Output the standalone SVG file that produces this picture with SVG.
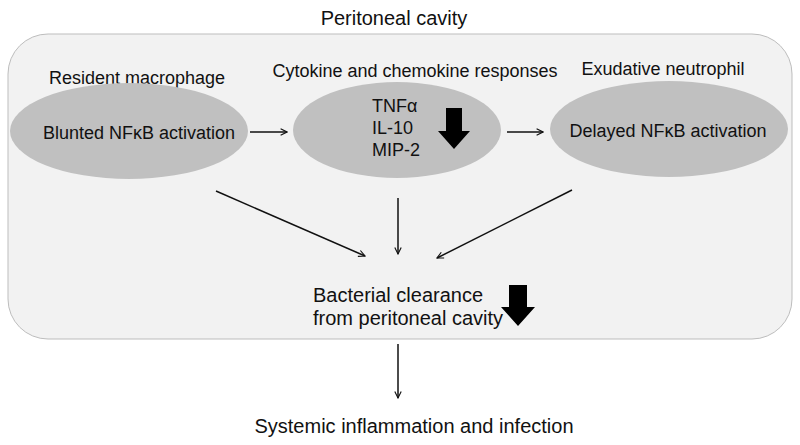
<svg xmlns="http://www.w3.org/2000/svg" width="800" height="445" viewBox="0 0 800 445">
<style>
text{font-family:"Liberation Sans",Arial,sans-serif;font-size:18px;fill:#111}
.lg{font-size:20px}
.ell{fill:#c0c0c0}
.con{stroke:#111;stroke-width:1.5;fill:none;marker-end:url(#ah)}
.big{fill:#000}
</style>
<defs>
<marker id="ah" viewBox="0 0 10 10" refX="9" refY="5" markerWidth="8" markerHeight="8" markerUnits="userSpaceOnUse" orient="auto">
<path d="M1,1 L9,5 L1,9" fill="none" stroke="#111" stroke-width="1.4"/>
</marker>
</defs>
<rect width="800" height="445" fill="#fff"/>
<text class="lg" x="394" y="25" text-anchor="middle">Peritoneal cavity</text>
<g id="container">
<rect x="8" y="34" width="784" height="305" rx="40" ry="40" fill="#f2f2f2" stroke="#bdbdbd" stroke-width="1"/>
</g>
<g id="macrophage">
<text x="137" y="84" text-anchor="middle">Resident macrophage</text>
<ellipse class="ell" cx="129" cy="131" rx="119" ry="48"/>
<text x="139" y="139" text-anchor="middle">Blunted NFκB activation</text>
</g>
<g id="cytokine">
<text x="415" y="77" text-anchor="middle">Cytokine and chemokine responses</text>
<ellipse class="ell" cx="397" cy="130" rx="104" ry="48"/>
<text x="372" y="112">TNFα</text>
<text x="372" y="134">IL-10</text>
<text x="372" y="156">MIP-2</text>
<path class="big" d="M446,108 H462 V131 H470 L454,149 L438,131 H446 Z"/>
</g>
<g id="neutrophil">
<text x="663" y="75" text-anchor="middle">Exudative neutrophil</text>
<ellipse class="ell" cx="669" cy="129" rx="119" ry="48"/>
<text x="668" y="137" text-anchor="middle">Delayed NFκB activation</text>
</g>
<g id="clearance">
<text class="lg" x="313" y="302">Bacterial clearance</text>
<text class="lg" x="313" y="325">from peritoneal cavity</text>
<path class="big" d="M509,285 H527 V307 H535 L518,326 L501,307 H509 Z"/>
</g>
<g id="systemic">
<text class="lg" x="414" y="433" text-anchor="middle">Systemic inflammation and infection</text>
</g>
<g id="connectors">
<line class="con" x1="250" y1="132" x2="287" y2="132"/>
<line class="con" x1="507" y1="132" x2="543" y2="132"/>
<line class="con" x1="216" y1="191" x2="365" y2="256"/>
<line class="con" x1="398" y1="198" x2="398" y2="254"/>
<line class="con" x1="572" y1="190" x2="437" y2="258"/>
<line class="con" x1="398" y1="344" x2="398" y2="398"/>
</g>
</svg>
